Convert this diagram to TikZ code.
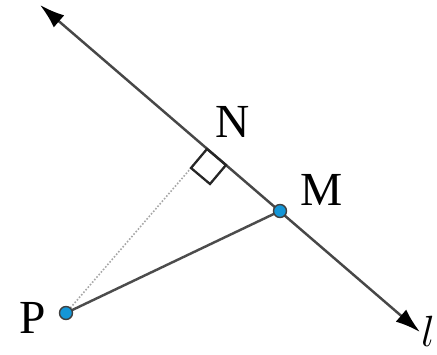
\documentclass[tikz,border=0pt]{standalone}
\usepackage{fontspec}
\setmainfont{Liberation Serif}
\usetikzlibrary{arrows.meta,calc}
\definecolor{ptblue}{RGB}{20,150,215}
\tikzset{
  ptdot/.style={circle, fill=ptblue, draw=black!75, line width=0.8pt, inner sep=0pt, minimum size=0.26cm},
  ptlabel/.style={font=\fontsize{27}{30}\selectfont, inner sep=0pt},
  ltip/.tip={Latex[length=0.5cm,width=0.32cm,color=black]}
}
\begin{document}
\begin{tikzpicture}[x=0.02cm, y=-0.02cm]
    \useasboundingbox (0,0) rectangle (437,355);
    \coordinate (lstart) at (40,5);
    \coordinate (lend) at (420,332);
    \coordinate (N) at (207,149);
    \coordinate (P) at (66,313);
    \coordinate (M) at (280,211);
    % line l with both arrow tips
    \draw[ltip-ltip, line width=1.4pt, color=black!72] (lstart) -- (lend);
    % perpendicular and segment PM
    \draw[densely dotted, line width=0.9pt, color=black!35] (P) -- ($(N)+(-16,19)$);
    \draw[line width=1.4pt, color=black!70] (P) -- (M);
    % right angle mark at N
    \draw[line width=1.3pt, color=black!85] (N) -- ++(19,16) -- ++(-16,19) -- ++(-19,-16) -- cycle;
    \node[ptdot] (Pdot) at (P) {};
    \node[ptdot] (Mdot) at (M) {};
    \node[ptlabel] (Nlabel) at (233,122) {N};
    \node[ptlabel] (Mlabel) at (322,190) {M};
    \node[ptlabel] (Plabel) at (33,318) {P};
    \node[ptlabel] (llabel) at (428,331) {$l$};
\end{tikzpicture}
\end{document}
